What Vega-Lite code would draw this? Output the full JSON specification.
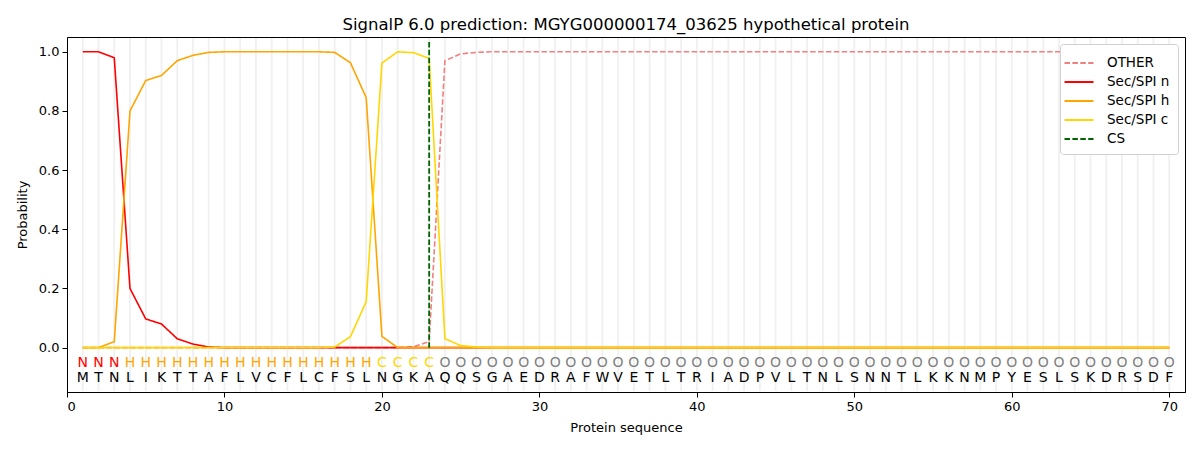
{
  "$schema": "https://vega.github.io/schema/vega-lite/v6.json",
  "autosize": {"type": "none"},
  "width": 1118,
  "height": 355,
  "padding": {"left": 67, "top": 37, "right": 15, "bottom": 58},
  "background": "white",
  "title": {
    "text": "SignalP 6.0 prediction: MGYG000000174_03625 hypothetical protein",
    "font": "DejaVu Sans",
    "fontSize": 16.5,
    "fontWeight": "normal",
    "color": "black",
    "offset": 3
  },
  "config": {
    "font": "DejaVu Sans",
    "view": {"stroke": "black", "strokeWidth": 1},
    "axis": {
      "grid": false,
      "domainColor": "black",
      "tickColor": "black",
      "tickSize": 5,
      "labelFontSize": 13,
      "titleFontSize": 13,
      "labelColor": "black",
      "titleColor": "black",
      "titleFontWeight": "normal",
      "labelFont": "DejaVu Sans",
      "titleFont": "DejaVu Sans"
    }
  },
  "datasets": {
    "seq": [
      {"pos": 1, "aa": "M", "lab": "N", "other": 0, "n": 1.0, "h": 0, "c": 0},
      {"pos": 2, "aa": "T", "lab": "N", "other": 0, "n": 1.0, "h": 0.0, "c": 0},
      {"pos": 3, "aa": "N", "lab": "N", "other": 0, "n": 0.98, "h": 0.02, "c": 0},
      {"pos": 4, "aa": "L", "lab": "H", "other": 0, "n": 0.2, "h": 0.8, "c": 0},
      {"pos": 5, "aa": "I", "lab": "H", "other": 0, "n": 0.097, "h": 0.903, "c": 0},
      {"pos": 6, "aa": "K", "lab": "H", "other": 0, "n": 0.08, "h": 0.92, "c": 0},
      {"pos": 7, "aa": "T", "lab": "H", "other": 0, "n": 0.03, "h": 0.97, "c": 0},
      {"pos": 8, "aa": "T", "lab": "H", "other": 0, "n": 0.012, "h": 0.988, "c": 0},
      {"pos": 9, "aa": "A", "lab": "H", "other": 0, "n": 0.002, "h": 0.998, "c": 0},
      {"pos": 10, "aa": "F", "lab": "H", "other": 0, "n": 0, "h": 1.0, "c": 0},
      {"pos": 11, "aa": "L", "lab": "H", "other": 0, "n": 0, "h": 1.0, "c": 0},
      {"pos": 12, "aa": "V", "lab": "H", "other": 0, "n": 0, "h": 1.0, "c": 0},
      {"pos": 13, "aa": "C", "lab": "H", "other": 0, "n": 0, "h": 1.0, "c": 0},
      {"pos": 14, "aa": "F", "lab": "H", "other": 0, "n": 0, "h": 1.0, "c": 0},
      {"pos": 15, "aa": "L", "lab": "H", "other": 0, "n": 0, "h": 1.0, "c": 0},
      {"pos": 16, "aa": "C", "lab": "H", "other": 0, "n": 0, "h": 1.0, "c": 0},
      {"pos": 17, "aa": "F", "lab": "H", "other": 0, "n": 0, "h": 0.998, "c": 0.002},
      {"pos": 18, "aa": "S", "lab": "H", "other": 0, "n": 0, "h": 0.963, "c": 0.037},
      {"pos": 19, "aa": "L", "lab": "H", "other": 0, "n": 0, "h": 0.845, "c": 0.155},
      {"pos": 20, "aa": "N", "lab": "C", "other": 0, "n": 0, "h": 0.038, "c": 0.962},
      {"pos": 21, "aa": "G", "lab": "C", "other": 0, "n": 0, "h": 0, "c": 1.0},
      {"pos": 22, "aa": "K", "lab": "C", "other": 0.003, "n": 0, "h": 0, "c": 0.997},
      {"pos": 23, "aa": "A", "lab": "C", "other": 0.02, "n": 0, "h": 0, "c": 0.978},
      {"pos": 24, "aa": "Q", "lab": "O", "other": 0.97, "n": 0, "h": 0, "c": 0.03},
      {"pos": 25, "aa": "Q", "lab": "O", "other": 0.993, "n": 0, "h": 0, "c": 0.007},
      {"pos": 26, "aa": "S", "lab": "O", "other": 0.998, "n": 0, "h": 0, "c": 0.002},
      {"pos": 27, "aa": "G", "lab": "O", "other": 1.0, "n": 0, "h": 0, "c": 0},
      {"pos": 28, "aa": "A", "lab": "O", "other": 1.0, "n": 0, "h": 0, "c": 0},
      {"pos": 29, "aa": "E", "lab": "O", "other": 1.0, "n": 0, "h": 0, "c": 0},
      {"pos": 30, "aa": "D", "lab": "O", "other": 1.0, "n": 0, "h": 0, "c": 0},
      {"pos": 31, "aa": "R", "lab": "O", "other": 1.0, "n": 0, "h": 0, "c": 0},
      {"pos": 32, "aa": "A", "lab": "O", "other": 1.0, "n": 0, "h": 0, "c": 0},
      {"pos": 33, "aa": "F", "lab": "O", "other": 1.0, "n": 0, "h": 0, "c": 0},
      {"pos": 34, "aa": "W", "lab": "O", "other": 1.0, "n": 0, "h": 0, "c": 0},
      {"pos": 35, "aa": "V", "lab": "O", "other": 1.0, "n": 0, "h": 0, "c": 0},
      {"pos": 36, "aa": "E", "lab": "O", "other": 1.0, "n": 0, "h": 0, "c": 0},
      {"pos": 37, "aa": "T", "lab": "O", "other": 1.0, "n": 0, "h": 0, "c": 0},
      {"pos": 38, "aa": "L", "lab": "O", "other": 1.0, "n": 0, "h": 0, "c": 0},
      {"pos": 39, "aa": "T", "lab": "O", "other": 1.0, "n": 0, "h": 0, "c": 0},
      {"pos": 40, "aa": "R", "lab": "O", "other": 1.0, "n": 0, "h": 0, "c": 0},
      {"pos": 41, "aa": "I", "lab": "O", "other": 1.0, "n": 0, "h": 0, "c": 0},
      {"pos": 42, "aa": "A", "lab": "O", "other": 1.0, "n": 0, "h": 0, "c": 0},
      {"pos": 43, "aa": "D", "lab": "O", "other": 1.0, "n": 0, "h": 0, "c": 0},
      {"pos": 44, "aa": "P", "lab": "O", "other": 1.0, "n": 0, "h": 0, "c": 0},
      {"pos": 45, "aa": "V", "lab": "O", "other": 1.0, "n": 0, "h": 0, "c": 0},
      {"pos": 46, "aa": "L", "lab": "O", "other": 1.0, "n": 0, "h": 0, "c": 0},
      {"pos": 47, "aa": "T", "lab": "O", "other": 1.0, "n": 0, "h": 0, "c": 0},
      {"pos": 48, "aa": "N", "lab": "O", "other": 1.0, "n": 0, "h": 0, "c": 0},
      {"pos": 49, "aa": "L", "lab": "O", "other": 1.0, "n": 0, "h": 0, "c": 0},
      {"pos": 50, "aa": "S", "lab": "O", "other": 1.0, "n": 0, "h": 0, "c": 0},
      {"pos": 51, "aa": "N", "lab": "O", "other": 1.0, "n": 0, "h": 0, "c": 0},
      {"pos": 52, "aa": "N", "lab": "O", "other": 1.0, "n": 0, "h": 0, "c": 0},
      {"pos": 53, "aa": "T", "lab": "O", "other": 1.0, "n": 0, "h": 0, "c": 0},
      {"pos": 54, "aa": "L", "lab": "O", "other": 1.0, "n": 0, "h": 0, "c": 0},
      {"pos": 55, "aa": "K", "lab": "O", "other": 1.0, "n": 0, "h": 0, "c": 0},
      {"pos": 56, "aa": "K", "lab": "O", "other": 1.0, "n": 0, "h": 0, "c": 0},
      {"pos": 57, "aa": "N", "lab": "O", "other": 1.0, "n": 0, "h": 0, "c": 0},
      {"pos": 58, "aa": "M", "lab": "O", "other": 1.0, "n": 0, "h": 0, "c": 0},
      {"pos": 59, "aa": "P", "lab": "O", "other": 1.0, "n": 0, "h": 0, "c": 0},
      {"pos": 60, "aa": "Y", "lab": "O", "other": 1.0, "n": 0, "h": 0, "c": 0},
      {"pos": 61, "aa": "E", "lab": "O", "other": 1.0, "n": 0, "h": 0, "c": 0},
      {"pos": 62, "aa": "S", "lab": "O", "other": 1.0, "n": 0, "h": 0, "c": 0},
      {"pos": 63, "aa": "L", "lab": "O", "other": 1.0, "n": 0, "h": 0, "c": 0},
      {"pos": 64, "aa": "S", "lab": "O", "other": 1.0, "n": 0, "h": 0, "c": 0},
      {"pos": 65, "aa": "K", "lab": "O", "other": 1.0, "n": 0, "h": 0, "c": 0},
      {"pos": 66, "aa": "D", "lab": "O", "other": 1.0, "n": 0, "h": 0, "c": 0},
      {"pos": 67, "aa": "R", "lab": "O", "other": 1.0, "n": 0, "h": 0, "c": 0},
      {"pos": 68, "aa": "S", "lab": "O", "other": 1.0, "n": 0, "h": 0, "c": 0},
      {"pos": 69, "aa": "D", "lab": "O", "other": 1.0, "n": 0, "h": 0, "c": 0},
      {"pos": 70, "aa": "F", "lab": "O", "other": 1.0, "n": 0, "h": 0, "c": 0}
    ],
    "cs": [{"pos": 23, "lo": 0, "hi": 1.035, "series": "cs"}]
  },
  "layer": [
    {
      "data": {"name": "seq"},
      "mark": {"type": "rule", "color": "#f0f0f0", "strokeWidth": 1.8},
      "encoding": {
        "x": {
          "field": "pos",
          "type": "quantitative",
          "title": "Protein sequence",
          "scale": {"domain": [0, 71], "nice": false, "zero": false}
        },
        "y": {"datum": -0.147, "type": "quantitative", "title": "Probability"},
        "y2": {"datum": 1.047}
      }
    },
    {
      "data": {"name": "seq"},
      "transform": [
        {"fold": ["other", "n", "h", "c"], "as": ["series", "prob"]}
      ],
      "mark": {"type": "line", "strokeWidth": 1.6},
      "encoding": {
        "x": {
          "field": "pos",
          "type": "quantitative",
          "title": "Protein sequence",
          "scale": {"domain": [0, 71], "nice": false, "zero": false},
          "axis": {"values": [0, 10, 20, 30, 40, 50, 60, 70], "titlePadding": 8, "labelPadding": 3}
        },
        "y": {
          "field": "prob",
          "type": "quantitative",
          "title": "Probability",
          "scale": {"domain": [-0.15, 1.05], "nice": false, "zero": false},
          "axis": {"values": [0, 0.2, 0.4, 0.6, 0.8, 1.0], "format": ".1f", "titlePadding": 9, "labelPadding": 3}
        },
        "color": {
          "field": "series",
          "type": "nominal",
          "scale": {
            "domain": ["other", "n", "h", "c", "cs"],
            "range": ["#f08080", "#ff0000", "#ffa500", "#ffd700", "#006400"]
          },
          "legend": {
            "title": null,
            "orient": "top-right",
            "offset": 7,
            "labelExpr": "{'other': 'OTHER', 'n': 'Sec/SPI n', 'h': 'Sec/SPI h', 'c': 'Sec/SPI c', 'cs': 'CS'}[datum.label]",
            "labelFontSize": 13.5,
            "labelFont": "DejaVu Sans",
            "labelColor": "black",
            "symbolType": "M-1.45,0H1.45",
            "symbolSize": 400,
            "symbolStrokeWidth": 1.8,
            "labelOffset": 17,
            "rowPadding": 1,
            "padding": 8,
            "fillColor": "white",
            "strokeColor": "#d0d0d0",
            "cornerRadius": 3
          }
        },
        "strokeDash": {
          "field": "series",
          "type": "nominal",
          "scale": {
            "domain": ["other", "n", "h", "c", "cs"],
            "range": [[5.5, 2.4], [1, 0], [1, 0], [1, 0], [5.5, 2.4]]
          },
          "legend": null
        },
        "order": {"field": "pos", "type": "quantitative"}
      }
    },
    {
      "data": {"name": "cs"},
      "mark": {"type": "rule", "strokeWidth": 1.8},
      "encoding": {
        "x": {"field": "pos", "type": "quantitative", "title": "Protein sequence"},
        "y": {"field": "lo", "type": "quantitative", "title": "Probability"},
        "y2": {"field": "hi"},
        "color": {"field": "series", "type": "nominal"},
        "strokeDash": {"field": "series", "type": "nominal", "legend": null}
      }
    },
    {
      "data": {"name": "seq"},
      "mark": {"type": "text", "fontSize": 14, "font": "DejaVu Sans", "baseline": "middle", "align": "center", "dy": 1},
      "encoding": {
        "x": {"field": "pos", "type": "quantitative", "title": "Protein sequence"},
        "y": {"datum": -0.05, "type": "quantitative", "title": "Probability"},
        "text": {"field": "lab"},
        "color": {
          "condition": [
            {"test": "datum.lab == 'N'", "value": "#ff0000"},
            {"test": "datum.lab == 'H'", "value": "#ffa500"},
            {"test": "datum.lab == 'C'", "value": "#ffd700"}
          ],
          "value": "#808080"
        }
      }
    },
    {
      "data": {"name": "seq"},
      "mark": {"type": "text", "fontSize": 14, "font": "DejaVu Sans", "baseline": "middle", "align": "center", "color": "black", "dy": 1},
      "encoding": {
        "x": {"field": "pos", "type": "quantitative", "title": "Protein sequence"},
        "y": {"datum": -0.1, "type": "quantitative", "title": "Probability"},
        "text": {"field": "aa"}
      }
    }
  ]
}
